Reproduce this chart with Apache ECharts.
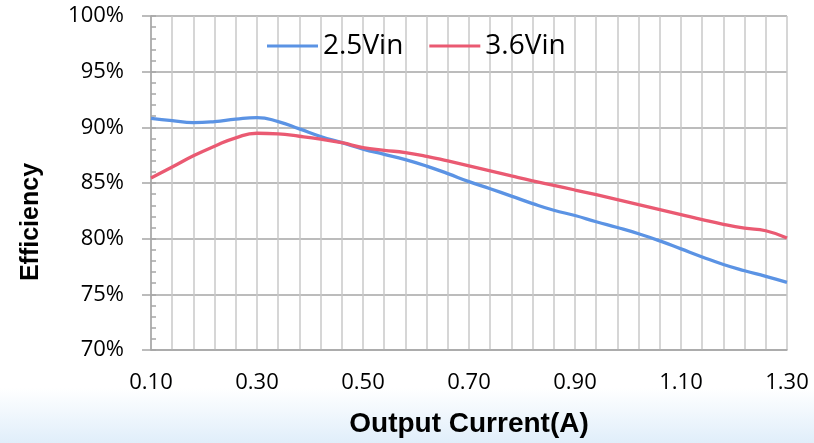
<!DOCTYPE html>
<html>
<head>
<meta charset="utf-8">
<script src="https://cdn.jsdelivr.net/npm/echarts@6/dist/echarts.min.js"></script>
<style>
html,body{margin:0;padding:0;background:#fff;}
#chart{width:814px;height:443px;}
</style>
</head>
<body>
<div id="chart"></div>
<script>
// Output current categories (A), every 0.04 A
const categories = ["0.10","0.14","0.18","0.22","0.26","0.30","0.34","0.38","0.42","0.46",
  "0.50","0.54","0.58","0.62","0.66","0.70","0.74","0.78","0.82","0.86",
  "0.90","0.94","0.98","1.02","1.06","1.10","1.14","1.18","1.22","1.26","1.30"];
// Efficiency (%)
const eff25 = [90.81,90.60,90.43,90.52,90.74,90.87,90.52,89.86,89.18,88.62,
  88.05,87.58,87.10,86.52,85.84,85.12,84.48,83.82,83.15,82.55,
  82.08,81.52,81.00,80.44,79.80,79.08,78.36,77.68,77.12,76.62,76.08];
const eff36 = [85.45,86.43,87.44,88.31,89.06,89.47,89.42,89.20,88.94,88.62,
  88.18,87.94,87.73,87.40,86.98,86.54,86.09,85.64,85.20,84.79,
  84.37,83.95,83.51,83.06,82.61,82.16,81.71,81.29,80.95,80.71,80.06];
const seriesNames = ["2.5Vin","3.6Vin"];
const yMin = 70, yMax = 100, yStep = 5;
const xTitle = "Output Current(A)";
const yTitle = "Efficiency";

const chart = echarts.init(document.getElementById('chart'), null, {renderer:'canvas'});
const tickFont = "'Open Sans', 'Liberation Sans', sans-serif";
const boldFont = "'Liberation Sans', Arial, sans-serif";

chart.setOption({
  animation: false,
  backgroundColor: '#ffffff',
  graphic: [
    {
      type: 'rect', z: -10, silent: true,
      shape: {x: 0, y: 388, width: 814, height: 55},
      style: {
        fill: new echarts.graphic.LinearGradient(0, 0, 0, 1, [
          {offset: 0, color: '#ffffff'},
          {offset: 1, color: '#e0eefa'}
        ])
      }
    },
    {
      type: 'text', silent: true,
      x: 31, y: 222, rotation: Math.PI / 2,
      style: {
        text: yTitle, fill: '#000',
        font: "bold 25px " + boldFont,
        textAlign: 'center', textVerticalAlign: 'middle'
      }
    }
  ],
  grid: {left: 151, right: 27, top: 16, bottom: 93, containLabel: false},
  legend: {
    data: seriesNames.map(n => ({name: n, icon: 'rect'})),
    left: 262, top: 27,
    itemWidth: 51, itemHeight: 3, itemGap: 26,
    textStyle: {fontFamily: tickFont, fontSize: 28, color: '#000'}
  },
  xAxis: {
    type: 'category',
    data: categories,
    boundaryGap: false,
    name: xTitle,
    nameLocation: 'middle',
    nameGap: 60,
    nameTextStyle: {fontFamily: boldFont, fontWeight: 'bold', fontSize: 28, color: '#000'},
    axisLine: {show: true, lineStyle: {color: '#a6a6a6', width: 1.5}},
    axisTick: {show: false},
    axisLabel: {interval: 4, margin: 22, fontFamily: tickFont, fontSize: 22, color: '#000'},
    splitLine: {show: true, interval: 0, lineStyle: {color: '#c8c8c8', width: 1.5}}
  },
  yAxis: [
    {
      type: 'value', min: yMin, max: yMax, interval: yStep,
      axisLine: {show: true, lineStyle: {color: '#a6a6a6', width: 1.5}},
      axisTick: {show: true, inside: false, length: 9, lineStyle: {color: '#a6a6a6', width: 1.5}},
      axisLabel: {formatter: '{value}%', margin: 27, fontFamily: tickFont, fontSize: 22, color: '#000'},
      splitLine: {show: true, lineStyle: {color: '#a6a6a6', width: 1.5}}
    },
    {
      type: 'value', min: yMin, max: yMax, interval: 1, position: 'left',
      axisLine: {show: false},
      axisTick: {show: true, inside: true, length: 5, lineStyle: {color: '#a6a6a6', width: 1.5}},
      axisLabel: {show: false},
      splitLine: {show: false}
    }
  ],
  series: [
    {
      name: seriesNames[0], type: 'line', data: eff25, smooth: 0.5,
      showSymbol: false, symbol: 'none',
      lineStyle: {color: '#5b93e4', width: 3.3},
      itemStyle: {color: '#5b93e4'}
    },
    {
      name: seriesNames[1], type: 'line', data: eff36, smooth: 0.5,
      showSymbol: false, symbol: 'none',
      lineStyle: {color: '#ea5a72', width: 3.3},
      itemStyle: {color: '#ea5a72'}
    }
  ]
});
</script>
</body>
</html>
